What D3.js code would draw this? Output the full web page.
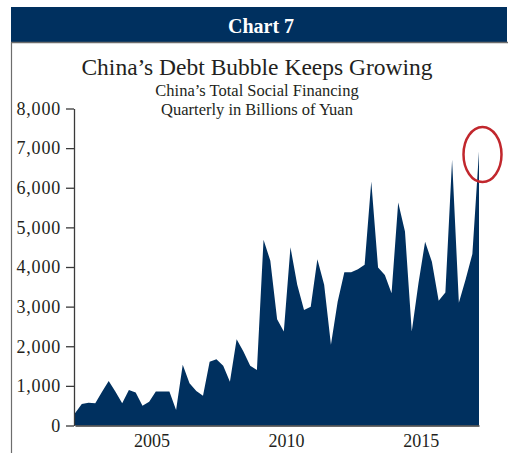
<!DOCTYPE html>
<html>
<head>
<meta charset="utf-8">
<script src="https://cdn.jsdelivr.net/npm/d3@7/dist/d3.min.js"></script>
<style>
    body { margin: 0; background: #fff; }
    svg { display: block; font-family: "Liberation Serif", "DejaVu Serif", serif; }
    .axis path, .axis line { stroke: #3a3a3a; stroke-width: 1.3; }
    .axis text { font-family: "Liberation Serif", serif; font-size: 18px; fill: #231f20; }
    .axis--y text { letter-spacing: 0.8px; }
</style>
</head>
<body>
<div id="chart"></div>
<script>
// quarters, 2002 Q1 - 2017 Q1
var quarters = [
    '2002Q1', '2002Q2', '2002Q3', '2002Q4',
    '2003Q1', '2003Q2', '2003Q3', '2003Q4',
    '2004Q1', '2004Q2', '2004Q3', '2004Q4',
    '2005Q1', '2005Q2', '2005Q3', '2005Q4',
    '2006Q1', '2006Q2', '2006Q3', '2006Q4',
    '2007Q1', '2007Q2', '2007Q3', '2007Q4',
    '2008Q1', '2008Q2', '2008Q3', '2008Q4',
    '2009Q1', '2009Q2', '2009Q3', '2009Q4',
    '2010Q1', '2010Q2', '2010Q3', '2010Q4',
    '2011Q1', '2011Q2', '2011Q3', '2011Q4',
    '2012Q1', '2012Q2', '2012Q3', '2012Q4',
    '2013Q1', '2013Q2', '2013Q3', '2013Q4',
    '2014Q1', '2014Q2', '2014Q3', '2014Q4',
    '2015Q1', '2015Q2', '2015Q3', '2015Q4',
    '2016Q1', '2016Q2', '2016Q3', '2016Q4',
    '2017Q1'
];

// total social financing, billions of yuan
var financing = [
    310, 545, 575, 560,
    845, 1125, 850, 560,
    895, 830, 500, 600,
    855, 855, 855, 390,
    1530, 1065, 870, 750,
    1610, 1670, 1505, 1105,
    2175, 1865, 1505, 1400,
    4685, 4160, 2680, 2370,
    4500, 3550, 2915, 3000,
    4195, 3550, 2035, 3125,
    3870, 3870, 3945, 4055,
    6155, 3985, 3800, 3340,
    5625, 4895, 2370, 3590,
    4640, 4135, 3150, 3355,
    6705, 3100, 3690, 4330,
    6915
];

var yTicks = [0, 1000, 2000, 3000, 4000, 5000, 6000, 7000, 8000];
var xTickYears = [2005, 2010, 2015];

var width = 508;
var height = 453;
var navy = '#00305f';

var parseQuarter = function(q) {
    var year = +q.slice(0, 4);
    var n = +q.slice(5);
    // place each quarter near its middle
    return new Date(year, (n - 1) * 3 + 2, 1);
};

var data = quarters.map(function(q, i) {
    return { date: parseQuarter(q), value: financing[i] };
});

var svg = d3.select('#chart')
    .append('svg')
    .attr('width', width)
    .attr('height', height);

// header band
svg.append('rect')
    .attr('x', 11)
    .attr('y', 7)
    .attr('width', width - 12)
    .attr('height', 35)
    .attr('fill', navy);

svg.append('text')
    .attr('x', 261)
    .attr('y', 33)
    .attr('text-anchor', 'middle')
    .attr('font-size', 20)
    .attr('font-weight', 'bold')
    .attr('fill', '#fff')
    .text('Chart 7');

// frame lines
svg.append('line')
    .attr('x1', 11).attr('x2', width)
    .attr('y1', 42.5).attr('y2', 42.5)
    .attr('stroke', '#6d6d6d')
    .attr('stroke-width', 1.5);

svg.append('line')
    .attr('x1', 11.5).attr('x2', 11.5)
    .attr('y1', 42).attr('y2', height)
    .attr('stroke', '#6d6d6d')
    .attr('stroke-width', 1.2);

// titles
svg.append('text')
    .attr('x', 257)
    .attr('y', 75)
    .attr('text-anchor', 'middle')
    .attr('font-size', 23.5)
    .attr('fill', '#231f20')
    .text('China\u2019s Debt Bubble Keeps Growing');

svg.append('text')
    .attr('x', 257)
    .attr('y', 96)
    .attr('text-anchor', 'middle')
    .attr('font-size', 16.5)
    .attr('fill', '#231f20')
    .text('China\u2019s Total Social Financing');

svg.append('text')
    .attr('x', 257)
    .attr('y', 115)
    .attr('text-anchor', 'middle')
    .attr('font-size', 16.5)
    .attr('fill', '#231f20')
    .text('Quarterly in Billions of Yuan');

// scales
var x = d3.scaleTime()
    .domain(d3.extent(data, function(d) { return d.date; }))
    .range([75, 479]);

var y = d3.scaleLinear()
    .domain([0, 8000])
    .range([425.5, 108.5]);

// area
var area = d3.area()
    .x(function(d) { return x(d.date); })
    .y0(y(0))
    .y1(function(d) { return y(d.value); });

svg.append('path')
    .datum(data)
    .attr('fill', navy)
    .attr('d', area);

// axes
svg.append('g')
    .attr('class', 'axis axis--y')
    .attr('transform', 'translate(74, 0)')
    .call(
        d3.axisLeft(y)
            .tickValues(yTicks)
            .tickFormat(d3.format(','))
            .tickSize(8)
            .tickSizeOuter(0)
            .tickPadding(5)
    );

svg.append('g')
    .attr('class', 'axis axis--x')
    .attr('transform', 'translate(0,' + y(0) + ')')
    .call(
        d3.axisBottom(x)
            .tickValues(xTickYears.map(function(yr) { return new Date(yr, 0, 1); }))
            .tickFormat(d3.timeFormat('%Y'))
            .tickSize(0)
            .tickPadding(9)
    );

// red circle round the latest quarter
var last = data[data.length - 1];

svg.append('ellipse')
    .attr('cx', x(last.date) + 3.5)
    .attr('cy', y(last.value) + 3)
    .attr('rx', 19)
    .attr('ry', 27.5)
    .attr('fill', 'none')
    .attr('stroke', '#c1272d')
    .attr('stroke-width', 2.5);
</script>
</body>
</html>
